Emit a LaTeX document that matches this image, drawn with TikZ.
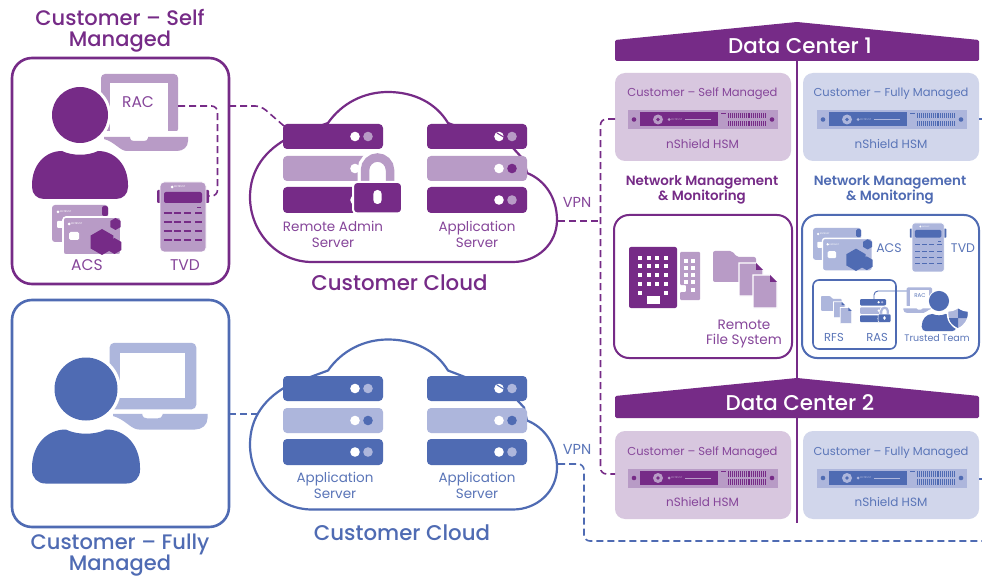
\documentclass[tikz,border=0pt]{standalone}
\usepackage{fontspec}
\setmainfont{Poppins}
\newfontfamily\medf{Poppins Medium}
\newfontfamily\semif{Poppins SemiBold}
\definecolor{darkp}{HTML}{762B87}
\definecolor{lightp}{HTML}{B89BC6}
\definecolor{palep}{HTML}{D8C7DF}
\definecolor{textp}{HTML}{86469A}
\definecolor{darkb}{HTML}{4F6BB3}
\definecolor{lightb}{HTML}{ADB6DC}
\definecolor{paleb}{HTML}{D1D6EB}
\definecolor{textb}{HTML}{5A75B8}
\newcount\logon
\tikzset{
  lbl/.style={font=\fontsize{#1}{#1}\selectfont,inner sep=0pt,outer sep=0pt,align=center},
  mlbl/.style={font=\medf\fontsize{#1}{#1}\selectfont,inner sep=0pt,outer sep=0pt,align=center},
  box/.style={draw=#1,line width=2.6pt,fill=white,rounded corners=20pt,inner sep=0pt,outer sep=0pt},
  card/.style={fill=#1,rounded corners=10pt,inner sep=0pt,outer sep=0pt},
  dashp/.style={draw=darkp,line width=1.6pt,dash pattern=on 7pt off 4pt,rounded corners=6pt},
  dashb/.style={draw=darkb,line width=1.6pt,dash pattern=on 7pt off 4pt,rounded corners=6pt},
  roof/.style={fill=darkp,rounded corners=1.5pt},
}
% tiny logo text
\newcommand\iconlogo[3]{% x y colour
  \global\advance\logon by 1
  \fill[#3] (#1,#2) circle[radius=1.5];
  \node[transform shape,text=#3,font=\fontsize{2.6}{3}\selectfont,anchor=west,inner sep=0pt] (logo\the\logon) at ({#1+2.2},#2) {ENTRUST};
}
% server stack: x y scale dark light
\newcommand\iconserver[5]{%
\begin{scope}[shift={(#1,#2)},scale=#3]
  \fill[#4,rounded corners=4pt*#3] (0,0) rectangle (100,25);
  \fill[#5,rounded corners=4pt*#3] (0,32) rectangle (100,57);
  \fill[#4,rounded corners=4pt*#3] (0,63) rectangle (100,89);
  \fill[white] (72,12.5) circle[radius=4.8];
  \fill[#5] (85,12.5) circle[radius=4.8];
  \fill[white] (72,44.5) circle[radius=4.8];
  \fill[#4] (85,44.5) circle[radius=4.8];
  \fill[white] (72,76) circle[radius=4.8];
  \fill[#5] (85,76) circle[radius=4.8];
\end{scope}}
% padlock on a stack
\newcommand\iconlock[5]{%
\begin{scope}[shift={(#1,#2)},scale=#3]
  \draw[white,line width=15pt*#3] (82,58) -- (82,46) .. controls (82,39) and (88,33.5) .. (94.5,33.5) .. controls (101,33.5) and (107,39) .. (107,46) -- (107,58);
  \fill[white] (82,40) rectangle (107,60);
  \draw[#5,line width=8.5pt*#3] (82,60) -- (82,46) .. controls (82,39) and (88,33.5) .. (94.5,33.5) .. controls (101,33.5) and (107,39) .. (107,46) -- (107,60);
  \fill[#4,draw=white,line width=2pt*#3,rounded corners=4pt*#3] (70,58) rectangle (119,89.5);
  \fill[white,rounded corners=4pt*#3] (90.3,66) rectangle (98.7,80);
\end{scope}}
% cloud outline: yshift colour
\newcommand\iconcloud[2]{%
\begin{scope}[yshift=#1]
  \fill[white,draw=#2,line width=2.2pt] (312,262) .. controls (277,262) and (250,232) .. (250,197) .. controls (250,170) and (265,150) .. (290,137) -- (328,123) .. controls (342,103) and (364,92) .. (388,92) .. controls (414,92) and (436,103) .. (448,123) -- (513,148) -- (524,160) -- (527,173) .. controls (545,180) and (557,198) .. (557,220) .. controls (557,244) and (537,262) .. (513,262) -- cycle;
\end{scope}}
% person: head centre x y, scale, colour
\newcommand\iconperson[4]{%
\begin{scope}[shift={(#1,#2)},scale=#3]
  \fill[white] (0,0) circle[radius=31];
  \path[draw=white,line width=5pt*#3] (-48,70) .. controls (-48,50) and (-35,36) .. (-18,36) .. controls (-8,41) and (8,41) .. (18,36) .. controls (35,36) and (48,50) .. (48,70) -- cycle;
  \fill[#4] (-48,70) .. controls (-48,50) and (-35,36) .. (-18,36) .. controls (-8,41) and (8,41) .. (18,36) .. controls (35,36) and (48,50) .. (48,70) -- (48,72) .. controls (48,79) and (43,84) .. (36,84) -- (-36,84) .. controls (-43,84) and (-48,79) .. (-48,72) -- cycle;
  \fill[#4] (0,0) circle[radius=28];
\end{scope}}
% laptop: x y scale colour innerbottom xsign
\newcommand\iconlaptop[6]{%
\begin{scope}[shift={(#1,#2)},xscale=#6*#3,yscale=#3]
  \fill[#4,rounded corners=4pt*#3] (21,-41) rectangle (98,18);
  \fill[white] (30,-32) rectangle (88,#5);
  \ifdim #5pt>10pt \fill[white] (10,#5) rectangle (100,22); \fi
  \fill[#4] (24,22) -- (50,22) -- (50,23) .. controls (50,25) and (52,26) .. (54,26) -- (64,26) .. controls (66,26) and (68,25) .. (68,23) -- (68,22) -- (108,22) -- (108,26) .. controls (108,32) and (103,36) .. (97,36) -- (47,36) .. controls (40,36) and (35,27) .. (24,24) -- cycle;
\end{scope}}
% access cards: x y scale dark light
\newcommand\iconcards[5]{%
\begin{scope}[shift={(#1,#2)},scale=#3]
  \fill[#5,rounded corners=3pt*#3] (0,0) rectangle (56,37);
  \fill[#4,rounded corners=2pt*#3] (50,1) rectangle (56,11);
  \fill[white,rounded corners=1pt*#3] (5,16) rectangle (11,23);
  \iconlogo{6}{7}{white}
  \path[fill=#5,draw=white,line width=1.6pt*#3,rounded corners=3pt*#3] (11,12) rectangle (69,50);
  \fill[white,rounded corners=1.5pt*#3] (17,27) rectangle (27,35);
  \iconlogo{17}{19}{white}
  \hexa{50}{37}{13}{#4}\hexa{62.5}{41}{8}{#4}\hexa{63.5}{19}{6}{#4}
\end{scope}}
\newcommand\hexa[4]{\fill[#4] (#1,{#2-#3}) -- ({#1+.866*#3},{#2-.5*#3}) -- ({#1+.866*#3},{#2+.5*#3}) -- (#1,{#2+#3}) -- ({#1-.866*#3},{#2+.5*#3}) -- ({#1-.866*#3},{#2-.5*#3}) -- cycle;}
% token device: x y scale dark light
\newcommand\icontvd[5]{%
\begin{scope}[shift={(#1,#2)},scale=#3]
  \fill[#4,rounded corners=1pt*#3] (-3,8) rectangle (49,21);
  \path[fill=#5,draw=white,line width=.8pt*#3,rounded corners=4pt*#3] (0,0) rectangle (46,70);
  \fill[#4,rounded corners=2pt*#3] (4,10) rectangle (42,21);
  \iconlogo{12}{5}{white}
  \fill[#4] (37,25.5) rectangle (41,26.5);
  \foreach \ky in {31,40,49,58}{
    \foreach \kx in {4.3,14,24,35}{
      \fill[#4] (\kx,\ky-.6) rectangle (\kx+7.3,\ky+.6);
    }
  }
\end{scope}}
% HSM: x y dark light
\newcommand\iconhsm[4]{%
\begin{scope}[shift={(#1,#2)}]
  \fill[#4] (0,0) rectangle (150,19);
  \fill[#3] (12,2.5) rectangle (90,16.5);
  \fill[#3] (6,9.5) circle[radius=2.3];
  \fill[#3] (144,9.5) circle[radius=2.3];
  \fill[#4] (30,9.5) circle[radius=5];
  \fill[#3] (30,9.5) circle[radius=1.8];
  \iconlogo{41}{9.5}{#4}
  \fill[#4] (57,9) rectangle (83,10);
  \fill[#3] (93,2.8) rectangle (98,3.8);
  \draw[#3,line width=5.4pt,dash pattern=on .8pt off 1.15pt] (100,5.5) -- (138,5.5);
  \draw[#3,line width=5.4pt,dash pattern=on .8pt off 1.15pt] (100,13.5) -- (138,13.5);
\end{scope}}
% folders: x y scale dark light
\newcommand\iconfolders[5]{%
\begin{scope}[shift={(#1,#2)},scale=#3]
  \fill[#5,rounded corners=2pt*#3] (0,0) -- (19,0) -- (24,6) -- (43,6) -- (43,31) -- (0,31) -- cycle;
  \path[fill=#5,draw=white,line width=1.4pt*#3] (26,12) -- (43,12) -- (50,19) -- (50,45) -- (26,45) -- cycle;
  \fill[#4] (43,12) -- (50,19) -- (43,19) -- cycle;
  \path[fill=#5,draw=white,line width=1.4pt*#3] (40,24) -- (57,24) -- (64,31) -- (64,57) -- (40,57) -- cycle;
  \fill[#4] (57,24) -- (64,31) -- (57,31) -- cycle;
\end{scope}}
\begin{document}
\begin{tikzpicture}[x=1pt,y=-1pt]
\useasboundingbox (0,0) rectangle (982,577);
\fill[white] (0,0) rectangle (982,577);

% titles
\node[mlbl=21,text=darkp] (titleself) at (120,30.5) {Customer – Self\\Managed};
\node[mlbl=21,text=darkb] (titlefull) at (120,555.5) {Customer – Fully\\Managed};

% customer boxes
\node[box=darkp,minimum width=217pt,minimum height=226pt] (selfbox) at (120.5,171) {};
\node[box=darkb,minimum width=217pt,minimum height=227pt] (fullbox) at (120.5,413.5) {};
\coordinate (selfout) at (229,106);
\coordinate (fullout) at (229,414);

% self managed user
\iconlaptop{80}{115}{1}{lightp}{16}{1}
\iconperson{80}{115}{1}{darkp}
\node[lbl=15.5,text=textp] (raclabel) at (138,102) {RAC};
\iconcards{52}{205}{1}{darkp}{lightp}
\icontvd{160}{182}{1}{darkp}{lightp}
\node[lbl=15.5,text=textp] (acslabel) at (87,265) {ACS};
\node[lbl=15.5,text=textp] (tvdlabel) at (185,265) {TVD};
\coordinate (racout) at (178,106);
\coordinate (tvdport) at (207,196);
\coordinate (racbend) at (217.5,106);
\coordinate (tvdbend) at (217.5,196);
\draw[dashp] (racout) -- (racbend) -- (tvdbend) -- (tvdport);

% fully managed user
\iconlaptop{86}{389}{1.125}{lightb}{8}{1}
\iconperson{86}{389}{1.125}{darkb}

% connectors to clouds
\coordinate (srvbend) at (261,106);
\coordinate (srvin) at (284,126);
\coordinate (cloudbin) at (258,414);
\draw[dashp] (selfout) -- (srvbend) -- (srvin);
\draw[dashb] (fullout) -- (cloudbin);

% clouds
\iconcloud{0}{darkp}
\iconcloud{-247.5}{darkb}

% purple cloud contents
\iconserver{283}{124}{1}{darkp}{lightp}
\iconserver{427}{124}{1}{darkp}{lightp}
\draw[darkp,line width=1pt] (497,133) -- (507,139);
\iconlock{283}{124}{1}{darkp}{lightp}
\node[lbl=13.5,text=textp,font=\fontsize{13.5}{16}\selectfont] (ras) at (333,234) {Remote Admin\\Server};
\node[lbl=13.5,text=textp,font=\fontsize{13.5}{16}\selectfont] (appa) at (477,234) {Application\\Server};
\node[mlbl=21.3,text=darkp] (cloudp) at (399.5,283) {Customer Cloud};

% blue cloud contents
\iconserver{283}{376}{1}{darkb}{lightb}
\iconserver{427}{376}{1}{darkb}{lightb}
\draw[darkb,line width=1pt] (497,385) -- (507,391);
\node[lbl=13.5,text=textb,font=\fontsize{13.5}{16}\selectfont] (appb) at (335,485) {Application\\Server};
\node[lbl=13.5,text=textb,font=\fontsize{13.5}{16}\selectfont] (appc) at (477,485) {Application\\Server};
\node[mlbl=21.3,text=darkb] (cloudb) at (402,533) {Customer Cloud};

% VPN
\node[lbl=14.5,text=textp] (vpnp) at (577,202.5) {VPN};
\node[lbl=14.5,text=textb] (vpnb) at (577,449.5) {VPN};

% data center cards
\node[card=palep,minimum width=176pt,minimum height=88pt] (cardA) at (703,117) {};
\node[card=paleb,minimum width=176pt,minimum height=88pt] (cardB) at (891,117) {};
\node[card=palep,minimum width=176pt,minimum height=88pt] (cardC) at (703,475) {};
\node[card=paleb,minimum width=176pt,minimum height=88pt] (cardD) at (891,475) {};

% connectors to data centres
\coordinate (cloudpout) at (558,221);
\coordinate (vpnjoin) at (600.5,221);
\coordinate (trunktop) at (600.5,119);
\coordinate (trunkbot) at (600.5,474);
\coordinate (cardAin) at (615,119);
\coordinate (cardCin) at (615,474);
\draw[dashp] (cloudpout) -- (vpnjoin);
\draw[dashp] (cardAin) -- (trunktop) -- (trunkbot) -- (cardCin);
\coordinate (cloudbout) at (558,464);
\coordinate (blueb1) at (584,464);
\coordinate (blueb2) at (584,541);
\coordinate (blueend) at (982,541);
\draw[dashb] (cloudbout) -- (blueb1) -- (blueb2) -- (blueend);
\coordinate (stubB) at (982,119);
\coordinate (stubBs) at (979,119);
\coordinate (stubD) at (982,479);
\coordinate (stubDs) at (979,479);
\draw[darkb,line width=1.4pt] (stubBs) -- (stubB);
\draw[darkb,line width=1.4pt] (stubDs) -- (stubD);

% roofs
\fill[roof] (615,40) -- (797,22) -- (979,40) -- (979,61) -- (615,61) -- cycle;
\fill[roof] (615,396) -- (797,378) -- (979,396) -- (979,418) -- (615,418) -- cycle;
\node[mlbl=21.4,text=white] (dc1) at (800,46) {Data Center 1};
\node[mlbl=21.4,text=white] (dc2) at (800,403) {Data Center 2};
\coordinate (spineA) at (797,61);
\coordinate (spineB) at (797,378);
\coordinate (spineC) at (797,418);
\coordinate (spineD) at (797,523);
\draw[darkp,line width=2pt] (spineA) -- (spineB);
\draw[darkp,line width=2pt] (spineC) -- (spineD);

% card contents
\node[lbl=11.5,text=textp] (ta) at (702.5,93.5) {Customer – Self Managed};
\node[lbl=11.5,text=textb] (tb) at (891,93.5) {Customer – Fully Managed};
\node[lbl=11.5,text=textp] (tc) at (702.5,452.5) {Customer – Self Managed};
\node[lbl=11.5,text=textb] (td) at (891,452.5) {Customer – Fully Managed};
\iconhsm{628}{110}{darkp}{lightp}
\iconhsm{817}{110}{darkb}{lightb}
\iconhsm{628}{468.5}{darkp}{lightp}
\iconhsm{817}{468.5}{darkb}{lightb}
\node[lbl=12,text=textp] (ha) at (702.5,144) {nShield HSM};
\node[lbl=12,text=textb] (hb) at (891,144) {nShield HSM};
\node[lbl=12,text=textp] (hc) at (702.5,502) {nShield HSM};
\node[lbl=12,text=textb] (hd) at (891,502) {nShield HSM};

% network management
\node[lbl=13,text=darkp,font=\semif\fontsize{13.4}{15}\selectfont] (nma) at (702,189.5) {Network Management\\\& Monitoring};
\node[lbl=13,text=darkb,font=\semif\fontsize{13.4}{15}\selectfont] (nmb) at (890,189.5) {Network Management\\\& Monitoring};

% remote file system box
\node[box=darkp,line width=2pt,rounded corners=15pt,minimum width=178pt,minimum height=143pt] (rfsbox) at (703,286.5) {};
\fill[darkp,rounded corners=2pt] (629,247) rectangle (677,308);
\foreach \wy in {258,266,275,284}{
  \foreach \wx in {640,649,657,666}{
    \fill[white] (\wx-2.2,\wy-2.2) rectangle (\wx+2.2,\wy+2.2);
  }
}
\fill[white] (637.8,290.8) rectangle (642.2,295.2);
\fill[white] (663.8,290.8) rectangle (668.2,295.2);
\fill[white] (647,296) rectangle (660,304);
\fill[lightp,rounded corners=1pt] (680,252) -- (700,252) -- (700,300) -- (680,300) -- (680,292) -- (686,292) -- (686,285) -- (680,285) -- cycle;
\foreach \wy in {261,268,275,282}{
  \foreach \wx in {686,693}{
    \fill[white] (\wx-1.8,\wy-1.8) rectangle (\wx+1.8,\wy+1.8);
  }
}
\fill[white] (691.2,288.2) rectangle (694.8,291.8);
\iconfolders{713}{251}{1}{darkp}{lightp}
\node[lbl=13,text=textp,font=\fontsize{13.6}{15.5}\selectfont] (rfstext) at (744,334) {Remote\\File System};

% fully managed network box
\node[box=darkb,line width=2pt,rounded corners=15pt,minimum width=177pt,minimum height=143pt] (netbox) at (890.5,286.5) {};
\iconcards{813}{228}{.86}{darkb}{lightb}
\icontvd{912}{223}{.7}{darkb}{lightb}
\node[lbl=12.5,text=textb] (acsb) at (889,248) {ACS};
\node[lbl=12.5,text=textb] (tvdb) at (963,248) {TVD};
\node[draw=darkb,line width=1.6pt,rounded corners=6pt,fill=white,inner sep=0pt,outer sep=0pt,minimum width=83pt,minimum height=69pt] (innerbox) at (854.5,314.5) {};
\iconfolders{821}{296}{.48}{darkb}{lightb}
\iconserver{860}{299}{.26}{darkb}{lightb}
\iconlock{860}{299}{.26}{darkb}{lightb}
\node[lbl=11.5,text=textb] (rfsb) at (834,337) {RFS};
\node[lbl=11.5,text=textb] (rasb) at (877,337) {RAS};
\coordinate (rasup) at (874,299);
\coordinate (rasbend) at (874,291);
\coordinate (tlap) at (908,291);
\draw[darkb,line width=.9pt,rounded corners=4pt] (rasup) -- (rasbend) -- (tlap);
\iconlaptop{939}{301}{.33}{lightb}{16}{-1}
\node[lbl=5.5,text=textb] (racs) at (920,296) {RAC};
\iconperson{939}{301}{.36}{darkb}
\path[fill=lightb,draw=white,line width=1.6pt] (958,307.5) .. controls (962,310) and (965,311) .. (968.5,311) .. controls (969,320) and (965,326) .. (958,329) .. controls (951,326) and (947,320) .. (947.5,311) .. controls (951,311) and (954,310) .. (958,307.5) -- cycle;
\fill[darkb] (958,308.5) .. controls (962,311) and (965,312) .. (967.7,312) .. controls (967.8,314) and (967.6,316) .. (967,318) -- (958,318) -- cycle;
\fill[darkb] (958,318) -- (958,328) .. controls (952,325) and (949.5,322) .. (949,318) -- cycle;
\node[lbl=9.5,text=textb] (tt) at (937,338) {Trusted Team};
\end{tikzpicture}
\end{document}
